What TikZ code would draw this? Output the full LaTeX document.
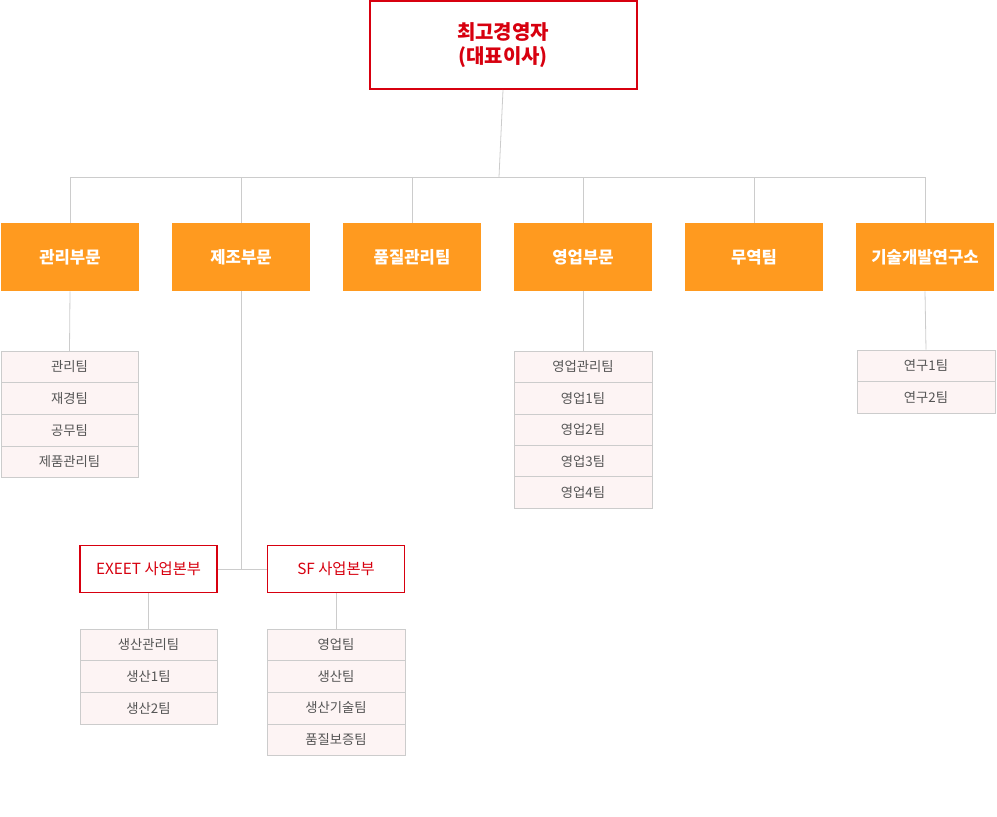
\documentclass[tikz,border=0pt]{standalone}
\usepackage{fontspec}
\setmainfont{Noto Sans CJK KR}
\definecolor{ored}{HTML}{D7000F}
\definecolor{orng}{HTML}{FF9A1F}
\definecolor{pnk}{HTML}{FDF4F4}
\definecolor{lgray}{HTML}{CCCCCC}
\definecolor{tgray}{HTML}{555555}
\tikzset{
 px/.style={x=0.75pt,y=-0.75pt},
 topbox/.style={draw=ored,line width=1.5pt,fill=white,text=ored,font=\bfseries\fontsize{15}{18}\selectfont,align=center,inner sep=0},
 divbox/.style={fill=orng,text=white,font=\bfseries\fontsize{12.5}{15}\selectfont,inner sep=0},
 subbox/.style={draw=ored,line width=1.2pt,fill=white,text=ored,font=\fontsize{11.5}{14}\selectfont,inner sep=0},
 item/.style={draw=lgray,fill=pnk,text=tgray,font=\fontsize{10}{12}\selectfont,inner sep=0},
 conn/.style={draw=lgray,line width=0.6pt}
}
\newcommand{\bx}[6]{\node[#1,minimum width=#4*0.75pt,minimum height=#5*0.75pt] (#2) at (#3) {#6};}
\begin{document}
\begin{tikzpicture}[px]
\useasboundingbox (0,0) rectangle (997,817);
% connectors
\coordinate (h0) at (499,177);
\coordinate (hl) at (71,177);
\coordinate (hr) at (926,177);
\bx{topbox}{ceo}{503,45}{267}{88}{최고경영자\\(대표이사)}
\draw[conn] (ceo.south) -- (h0);
\draw[conn] (hl) -- (hr);
\foreach \n/\x/\t in {d1/70/관리부문,d2/241/제조부문,d3/412/품질관리팀,d4/583/영업부문,d5/754/무역팀,d6/925/기술개발연구소}{
 \coordinate (t\n) at (\x,177);
 \bx{divbox}{\n}{\x,257}{138}{68}{\t}
 \draw[conn] (t\n) -- (\n.north);
}
% lists
\foreach \i/\t in {0/관리팀,1/재경팀,2/공무팀,3/제품관리팀}{
 \bx{item}{a\i}{69.5,{366.9+31.6*\i}}{137}{31.6}{\t}}
\foreach \i/\t in {0/영업관리팀,1/영업1팀,2/영업2팀,3/영업3팀,4/영업4팀}{
 \bx{item}{s\i}{583,{366.8+31.4*\i}}{138}{31.4}{\t}}
\foreach \i/\t in {0/연구1팀,1/연구2팀}{
 \bx{item}{r\i}{926,{365.7+31.6*\i}}{138}{31.6}{\t}}
\draw[conn] (d1.south) -- (a0.north);
\draw[conn] (d4.south) -- (s0.north);
\draw[conn] (d6.south) -- (r0.north);
% manufacturing
\bx{subbox}{ex}{148.5,569}{137}{47}{EXEET 사업본부}
\bx{subbox}{sf}{336,569}{137}{47}{SF 사업본부}
\coordinate (mj) at (241,570);
\draw[conn] (d2.south) -- (mj);
\draw[conn] (ex.east) -- (sf.west);
\foreach \i/\t in {0/생산관리팀,1/생산1팀,2/생산2팀}{
 \bx{item}{e\i}{148.5,{644.8+31.6*\i}}{137}{31.6}{\t}}
\foreach \i/\t in {0/영업팀,1/생산팀,2/생산기술팀,3/품질보증팀}{
 \bx{item}{f\i}{336,{644.8+31.6*\i}}{138}{31.6}{\t}}
\draw[conn] (ex.south) -- (e0.north);
\draw[conn] (sf.south) -- (f0.north);
\end{tikzpicture}
\end{document}
